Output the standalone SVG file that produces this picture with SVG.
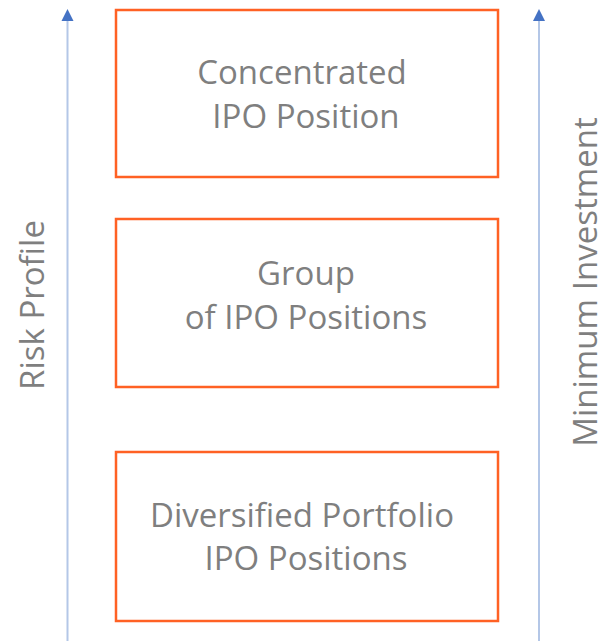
<svg xmlns="http://www.w3.org/2000/svg" width="609" height="641" viewBox="0 0 609 641">
  <style>
    .box { fill: #FFFFFF; stroke: #FF6124; stroke-width: 2.5; }
    .label { font-family: "Open Sans", "Liberation Sans", sans-serif; font-size: 33px; fill: #7F7F7F; text-anchor: middle; }
    .axis { stroke: #B4C7E7; stroke-width: 2; fill: none; }
    .head { fill: #4472C4; }
  </style>
  <rect width="609" height="641" fill="#FFFFFF"/>

  <g id="connectors">
    <line class="axis" x1="67.5" y1="20" x2="67.5" y2="641"/>
    <polygon class="head" points="67.5,9 61.5,21 73.5,21"/>
    <line class="axis" x1="539" y1="20" x2="539" y2="641"/>
    <polygon class="head" points="539,9 533,21 545,21"/>
  </g>

  <g id="risk-profile">
    <text class="label" transform="translate(44,305) rotate(-90)">Risk Profile</text>
  </g>
  <g id="minimum-investment">
    <text class="label" transform="translate(597,282) rotate(-90)">Minimum Investment</text>
  </g>

  <g id="concentrated">
    <rect class="box" x="116" y="10" width="382" height="167"/>
    <text class="label" x="302" y="84">Concentrated</text>
    <text class="label" x="306" y="128">IPO Position</text>
  </g>
  <g id="group">
    <rect class="box" x="116" y="219" width="382" height="168"/>
    <text class="label" x="306" y="285">Group</text>
    <text class="label" x="306" y="329">of IPO Positions</text>
  </g>
  <g id="diversified">
    <rect class="box" x="116" y="452" width="382" height="169"/>
    <text class="label" x="302" y="527">Diversified Portfolio</text>
    <text class="label" x="306" y="570">IPO Positions</text>
  </g>
</svg>
